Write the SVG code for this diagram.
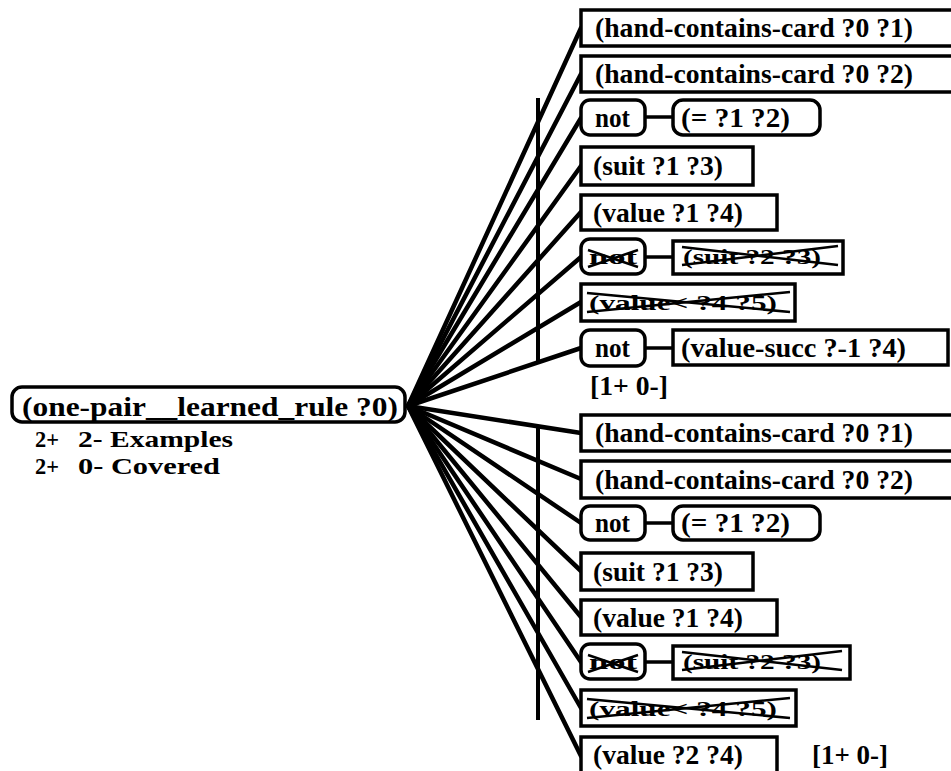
<svg xmlns="http://www.w3.org/2000/svg" width="951" height="771" viewBox="0 0 951 771">
  <style>
    .box { fill: #fff; stroke: #000; stroke-width: 3.5; }
    .t { font-family: "Liberation Serif", "Times New Roman", serif; font-weight: bold; font-size: 28px; fill: #000; }
    .tc { font-family: "Liberation Serif", "Times New Roman", serif; font-weight: bold; font-size: 24px; fill: #000; }
    .ts { font-family: "Liberation Serif", "Times New Roman", serif; font-weight: bold; font-size: 21px; fill: #000; }
    .edge { stroke: #000; stroke-width: 4.5; fill: none; stroke-linecap: round; }
    .bar { stroke: #000; stroke-width: 4; fill: none; }
    .link { stroke: #000; stroke-width: 3.5; fill: none; }
    .x { stroke: #000; stroke-width: 2.5; fill: none; }
  </style>

  <!-- connectors: fan from the rule node to every condition -->
  <g id="connectors">
    <line class="edge" x1="408" y1="406" x2="581" y2="28"/>
    <line class="edge" x1="408" y1="406" x2="581" y2="74"/>
    <line class="edge" x1="408" y1="406" x2="581" y2="118"/>
    <line class="edge" x1="408" y1="406" x2="581" y2="166"/>
    <line class="edge" x1="408" y1="406" x2="581" y2="212"/>
    <line class="edge" x1="408" y1="406" x2="581" y2="257"/>
    <line class="edge" x1="408" y1="406" x2="581" y2="302"/>
    <line class="edge" x1="408" y1="406" x2="581" y2="348"/>
    <line class="edge" x1="408" y1="406" x2="581" y2="433"/>
    <line class="edge" x1="408" y1="406" x2="581" y2="479"/>
    <line class="edge" x1="408" y1="406" x2="581" y2="523"/>
    <line class="edge" x1="408" y1="406" x2="581" y2="571"/>
    <line class="edge" x1="408" y1="406" x2="581" y2="617"/>
    <line class="edge" x1="408" y1="406" x2="581" y2="662"/>
    <line class="edge" x1="408" y1="406" x2="581" y2="708"/>
    <line class="edge" x1="408" y1="406" x2="581" y2="756"/>
    <!-- conjunction bars -->
    <line class="bar" x1="538" y1="98" x2="538" y2="362"/>
    <line class="bar" x1="538" y1="428" x2="538" y2="720"/>
    <!-- not-links -->
    <line class="link" x1="645" y1="117" x2="673" y2="117"/>
    <line class="link" x1="645" y1="257" x2="673" y2="257"/>
    <line class="link" x1="645" y1="348" x2="673" y2="348"/>
    <line class="link" x1="645" y1="523" x2="673" y2="523"/>
    <line class="link" x1="645" y1="662" x2="673" y2="662"/>
  </g>

  <!-- rule head -->
  <g id="rule">
    <rect class="box" x="12" y="387" width="393" height="35" rx="10"/>
    <text class="t" x="22" y="416" textLength="376" lengthAdjust="spacingAndGlyphs">(one-pair__learned_rule ?0)</text>
    <text class="tc" x="35" y="447" textLength="24" lengthAdjust="spacingAndGlyphs">2+</text>
    <text class="tc" x="78" y="447" textLength="155" lengthAdjust="spacingAndGlyphs">2- Examples</text>
    <text class="tc" x="35" y="474" textLength="24" lengthAdjust="spacingAndGlyphs">2+</text>
    <text class="tc" x="78" y="474" textLength="142" lengthAdjust="spacingAndGlyphs">0- Covered</text>
  </g>

  <!-- first clause -->
  <g id="a1">
    <rect class="box" x="581" y="10" width="400" height="36"/>
    <text class="t" x="595" y="37" textLength="318" lengthAdjust="spacingAndGlyphs">(hand-contains-card ?0 ?1)</text>
  </g>
  <g id="a2">
    <rect class="box" x="581" y="56" width="400" height="36"/>
    <text class="t" x="595" y="83" textLength="318" lengthAdjust="spacingAndGlyphs">(hand-contains-card ?0 ?2)</text>
  </g>
  <g id="a3">
    <rect class="box" x="581" y="100" width="64" height="35" rx="9"/>
    <text class="t" x="595" y="127" textLength="35" lengthAdjust="spacingAndGlyphs">not</text>
  </g>
  <g id="a3b">
    <rect class="box" x="673" y="100" width="147" height="35" rx="10"/>
    <text class="t" x="681" y="127" textLength="109" lengthAdjust="spacingAndGlyphs">(= ?1 ?2)</text>
  </g>
  <g id="a4">
    <rect class="box" x="581" y="147" width="172" height="38"/>
    <text class="t" x="593" y="175" textLength="130" lengthAdjust="spacingAndGlyphs">(suit ?1 ?3)</text>
  </g>
  <g id="a5">
    <rect class="box" x="581" y="195" width="196" height="35"/>
    <text class="t" x="593" y="222" textLength="150" lengthAdjust="spacingAndGlyphs">(value ?1 ?4)</text>
  </g>
  <g id="a6">
    <rect class="box" x="581" y="239" width="64" height="35" rx="9"/>
    <text class="ts" x="589" y="264" textLength="48" lengthAdjust="spacingAndGlyphs">not</text>
    <line class="x" x1="588" y1="250" x2="638" y2="267"/>
    <line class="x" x1="588" y1="267" x2="638" y2="250"/>
  </g>
  <g id="a6b">
    <rect class="box" x="673" y="241" width="170" height="33"/>
    <text class="ts" x="683" y="264" textLength="138" lengthAdjust="spacingAndGlyphs">(suit ?2 ?3)</text>
    <line class="x" x1="682" y1="247" x2="838" y2="265"/>
    <line class="x" x1="682" y1="265" x2="838" y2="246"/>
  </g>
  <g id="a7">
    <rect class="box" x="581" y="284" width="214" height="37"/>
    <text class="ts" x="589" y="310" textLength="188" lengthAdjust="spacingAndGlyphs">(value&lt; ?4 ?5)</text>
    <line class="x" x1="587" y1="293" x2="790" y2="312"/>
    <line class="x" x1="587" y1="312" x2="790" y2="292"/>
  </g>
  <g id="a8">
    <rect class="box" x="581" y="330" width="64" height="36" rx="9"/>
    <text class="t" x="595" y="357" textLength="35" lengthAdjust="spacingAndGlyphs">not</text>
  </g>
  <g id="a8b">
    <rect class="box" x="673" y="330" width="275" height="35"/>
    <text class="t" x="681" y="357" textLength="225" lengthAdjust="spacingAndGlyphs">(value-succ ?-1 ?4)</text>
  </g>
  <text id="score1" class="t" x="590" y="395" textLength="78" lengthAdjust="spacingAndGlyphs">[1+ 0-]</text>

  <!-- second clause -->
  <g id="b1">
    <rect class="box" x="581" y="415" width="400" height="36"/>
    <text class="t" x="595" y="442" textLength="318" lengthAdjust="spacingAndGlyphs">(hand-contains-card ?0 ?1)</text>
  </g>
  <g id="b2">
    <rect class="box" x="581" y="461" width="400" height="37"/>
    <text class="t" x="595" y="489" textLength="318" lengthAdjust="spacingAndGlyphs">(hand-contains-card ?0 ?2)</text>
  </g>
  <g id="b3">
    <rect class="box" x="581" y="506" width="64" height="34" rx="9"/>
    <text class="t" x="595" y="532" textLength="35" lengthAdjust="spacingAndGlyphs">not</text>
  </g>
  <g id="b3b">
    <rect class="box" x="673" y="506" width="147" height="34" rx="10"/>
    <text class="t" x="681" y="532" textLength="109" lengthAdjust="spacingAndGlyphs">(= ?1 ?2)</text>
  </g>
  <g id="b4">
    <rect class="box" x="581" y="553" width="172" height="37"/>
    <text class="t" x="593" y="581" textLength="130" lengthAdjust="spacingAndGlyphs">(suit ?1 ?3)</text>
  </g>
  <g id="b5">
    <rect class="box" x="581" y="600" width="196" height="35"/>
    <text class="t" x="593" y="627" textLength="150" lengthAdjust="spacingAndGlyphs">(value ?1 ?4)</text>
  </g>
  <g id="b6">
    <rect class="box" x="581" y="644" width="64" height="35" rx="9"/>
    <text class="ts" x="589" y="669" textLength="48" lengthAdjust="spacingAndGlyphs">not</text>
    <line class="x" x1="588" y1="655" x2="638" y2="672"/>
    <line class="x" x1="588" y1="672" x2="638" y2="655"/>
  </g>
  <g id="b6b">
    <rect class="box" x="673" y="646" width="177" height="33"/>
    <text class="ts" x="683" y="669" textLength="138" lengthAdjust="spacingAndGlyphs">(suit ?2 ?3)</text>
    <line class="x" x1="682" y1="652" x2="842" y2="670"/>
    <line class="x" x1="682" y1="670" x2="842" y2="651"/>
  </g>
  <g id="b7">
    <rect class="box" x="581" y="690" width="215" height="36"/>
    <text class="ts" x="589" y="716" textLength="188" lengthAdjust="spacingAndGlyphs">(value&lt; ?4 ?5)</text>
    <line class="x" x1="587" y1="699" x2="790" y2="718"/>
    <line class="x" x1="587" y1="718" x2="790" y2="698"/>
  </g>
  <g id="b8">
    <rect class="box" x="581" y="737" width="196" height="40"/>
    <text class="t" x="593" y="764" textLength="150" lengthAdjust="spacingAndGlyphs">(value ?2 ?4)</text>
  </g>
  <text id="score2" class="t" x="812" y="764" textLength="76" lengthAdjust="spacingAndGlyphs">[1+ 0-]</text>
</svg>
